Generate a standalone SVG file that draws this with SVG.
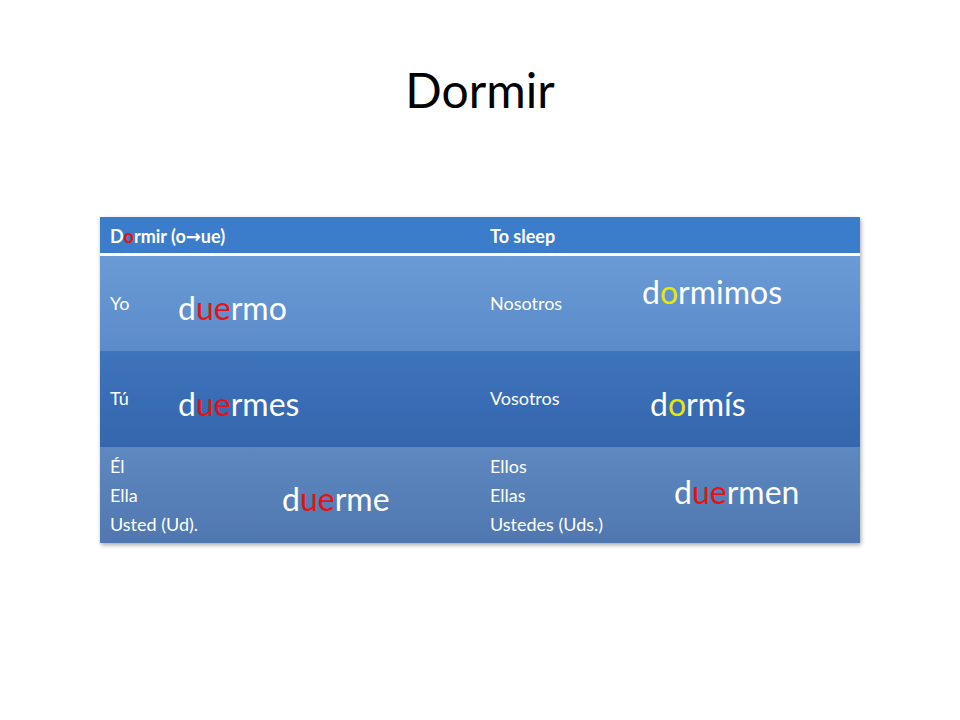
<svg xmlns="http://www.w3.org/2000/svg" width="960" height="720" viewBox="0 0 960 720">
<style>
text{font-family:Lato,"Open Sans","Liberation Sans",sans-serif;fill:#fff}
.s{font-size:18px}
.h{font-size:18px;font-weight:bold}
.b{font-size:32px}
.r{fill:#e81010}
.y{fill:#e8e800}
</style>
<defs>
<linearGradient id="g1" x1="0" y1="0" x2="0" y2="1"><stop offset="0" stop-color="#6a9bd6"/><stop offset="1" stop-color="#5b8bc9"/></linearGradient>
<linearGradient id="g2" x1="0" y1="0" x2="0" y2="1"><stop offset="0" stop-color="#3e74bd"/><stop offset="1" stop-color="#3466ad"/></linearGradient>
<linearGradient id="g3" x1="0" y1="0" x2="0" y2="1"><stop offset="0" stop-color="#5e88c0"/><stop offset="1" stop-color="#5077b0"/></linearGradient>
<filter id="sh" x="-5%" y="-5%" width="110%" height="110%"><feDropShadow dx="1" dy="2" stdDeviation="2" flood-opacity="0.35"/></filter>
</defs>
<rect width="960" height="720" fill="#fff"/>
<text x="480" y="108" text-anchor="middle" style="font-size:48px;fill:#000">Dormir</text>
<g id="table" filter="url(#sh)">
<rect x="100" y="217" width="760" height="36" fill="#3b7bcb"/>
<rect x="100" y="253" width="760" height="3" fill="#fff"/>
<rect x="100" y="256" width="760" height="95" fill="url(#g1)"/>
<rect x="100" y="351" width="760" height="96" fill="url(#g2)"/>
<rect x="100" y="447" width="760" height="96" fill="url(#g3)"/>
</g>
<g id="header">
<text x="110" y="243" class="h">D<tspan class="r">o</tspan>rmir (o<tspan font-family="DejaVu Sans">→</tspan>ue)</text>
<text x="490" y="243" class="h">To sleep</text>
</g>
<g id="row1">
<text x="110" y="310" class="s">Yo</text>
<text x="178" y="320" class="b">d<tspan class="r">ue</tspan>rmo</text>
<text x="490" y="310" class="s">Nosotros</text>
<text x="642" y="304" class="b">d<tspan class="y">o</tspan>rmimos</text>
</g>
<g id="row2">
<text x="110" y="405" class="s">Tú</text>
<text x="178" y="416" class="b">d<tspan class="r">ue</tspan>rmes</text>
<text x="490" y="405" class="s">Vosotros</text>
<text x="650" y="416" class="b">d<tspan class="y">o</tspan>rmís</text>
</g>
<g id="row3">
<text x="110" y="473" class="s">Él</text>
<text x="110" y="502" class="s">Ella</text>
<text x="110" y="531" class="s">Usted (Ud).</text>
<text x="282" y="511" class="b">d<tspan class="r">ue</tspan>rme</text>
<text x="490" y="473" class="s">Ellos</text>
<text x="490" y="502" class="s">Ellas</text>
<text x="490" y="531" class="s">Ustedes (Uds.)</text>
<text x="674" y="504" class="b">d<tspan class="r">ue</tspan>rmen</text>
</g>
</svg>
